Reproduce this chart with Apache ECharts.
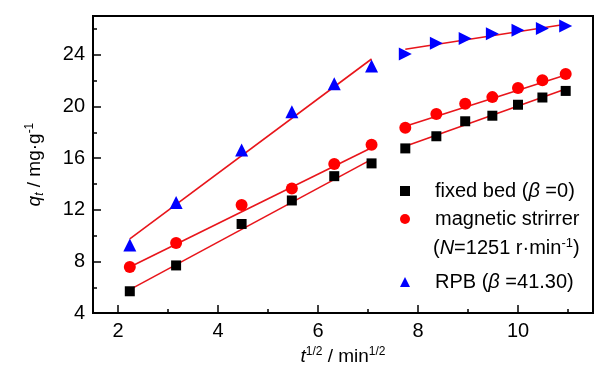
<!DOCTYPE html>
<html><head><meta charset="utf-8">
<script src="https://cdn.jsdelivr.net/npm/echarts@6/dist/echarts.min.js"></script>
<style>html,body{margin:0;padding:0;background:#fff}#c{width:602px;height:373px}</style>
</head><body><div id="c"></div>
<script>
// x positions: t^(1/2), min^(1/2)
const xFirst = [2.236, 3.162, 4.472, 5.477, 6.325, 7.071];
const xSecond = [7.746, 8.367, 8.944, 9.487, 10.0, 10.488, 10.954];
// fixed bed (beta = 0)
const fixedFirst = [5.69, 7.69, 10.9, 12.72, 14.6, 15.59];
const fixedSecond = [16.75, 17.69, 18.85, 19.28, 20.13, 20.69, 21.2];
// magnetic stirrer
const magFirst = [7.57, 9.42, 12.36, 13.65, 15.54, 17.03];
const magSecond = [18.34, 19.42, 20.21, 20.72, 21.42, 22.03, 22.51];
// RPB (beta = 41.30)
const rpbFirst = [9.28, 12.57, 16.62, 19.59, 21.75, 23.13];
const rpbSecond = [24.05, 24.9, 25.26, 25.62, 25.9, 26.03, 26.22];
// fitted line end points [x, y]
const fitFixed1 = [[2.236, 5.82], [7.071, 15.9]];
const fitFixed2 = [[7.746, 16.92], [10.954, 21.34]];
const fitMag1 = [[2.236, 7.57], [7.071, 16.8]];
const fitMag2 = [[7.746, 18.46], [10.954, 22.44]];
const fitRpb1 = [[2.236, 9.75], [7.071, 23.67]];
const fitRpb2 = [[7.746, 24.42], [10.954, 26.36]];
// ticks
const xMajor = [2, 4, 6, 8, 10];
const xMinor = [3, 5, 7, 9, 11];
const yMajor = [4, 8, 12, 16, 20, 24];
const yMinor = [6, 10, 14, 18, 22, 26];

const FONT = 'Liberation Sans, Arial, sans-serif';
const zip = (xs, ys) => xs.map((x, i) => [x, ys[i]]);
const chart = echarts.init(document.getElementById('c'), null, {renderer: 'canvas'});

const lineSeries = (data) => ({
  type: 'line', data: data, symbol: 'none', silent: true,
  lineStyle: {color: '#e8151b', width: 1.6}, z: 1
});

const mkRich = (fs, ss) => ({
  i: {fontStyle: 'italic', fontSize: fs, fontFamily: FONT, color: '#000'},
  n: {fontSize: fs, fontFamily: FONT, color: '#000'},
  sp: {width: 20, fontSize: fs},
  sup: {fontSize: ss, fontFamily: FONT, color: '#000', verticalAlign: 'top', lineHeight: ss},
  sub: {fontSize: ss, fontStyle: 'italic', fontFamily: FONT, color: '#000', verticalAlign: 'bottom', lineHeight: ss}
});
const axisRich = mkRich(19, 12);
const legRich = mkRich(20, 13);

const legendBase = {
  orient: 'vertical', left: 400, padding: 0, itemWidth: 10, itemHeight: 10,
  selectedMode: false,
  textStyle: {fontSize: 20, fontFamily: FONT, color: '#000', lineHeight: 22, rich: legRich}
};

chart.setOption({
  animation: false,
  grid: {left: 93, top: 16, right: 9, bottom: 58, show: true, borderColor: '#000', borderWidth: 2, backgroundColor: 'transparent'},
  xAxis: [{
    type: 'value', min: 1.5, max: 11.5,
    axisLine: {lineStyle: {color: '#000', width: 2}},
    axisTick: {inside: true, length: 8, customValues: xMajor, lineStyle: {color: '#000', width: 1.5}},
    axisLabel: {customValues: xMajor, fontSize: 20, fontFamily: FONT, color: '#000', margin: 8},
    splitLine: {show: false},
    name: '{i|t}{sup|1/2}{n| / min}{sup|1/2}', nameLocation: 'middle', nameGap: 21,
    nameTextStyle: {rich: axisRich, lineHeight: 22}
  }, {
    type: 'value', min: 1.5, max: 11.5, position: 'bottom',
    axisLine: {show: false},
    axisTick: {inside: true, length: 4, customValues: xMinor, lineStyle: {color: '#000', width: 1.5}},
    axisLabel: {show: false}, splitLine: {show: false}
  }],
  yAxis: [{
    type: 'value', min: 4, max: 27,
    axisLine: {show: true, lineStyle: {color: '#000', width: 2}},
    axisTick: {show: true, inside: true, length: 8, customValues: yMajor, lineStyle: {color: '#000', width: 1.5}},
    axisLabel: {customValues: yMajor, fontSize: 20, fontFamily: FONT, color: '#000', margin: 8},
    splitLine: {show: false},
    name: '{i|q}{sub|t}{n| / mg·g}{sup|-1}', nameLocation: 'middle', nameGap: 47, nameRotate: 90,
    nameTextStyle: {rich: axisRich, lineHeight: 22}
  }, {
    type: 'value', min: 4, max: 27, position: 'left',
    axisLine: {show: false},
    axisTick: {show: true, inside: true, length: 4, customValues: yMinor, lineStyle: {color: '#000', width: 1.5}},
    axisLabel: {show: false}, splitLine: {show: false}
  }],
  legend: [
    Object.assign({}, legendBase, {top: 180, data: [{name: 'fixed', icon: 'rect'}],
      formatter: () => '{sp|}{n|fixed bed (}{i|β}{n| =0)}'}),
    Object.assign({}, legendBase, {top: 208, data: [{name: 'magnetic', icon: 'circle'}],
      formatter: () => '{sp|}{n|magnetic strirrer}'}),
    Object.assign({}, legendBase, {top: 271, data: [{name: 'RPB', icon: 'triangle'}],
      formatter: () => '{sp|}{n|RPB (}{i|β}{n| =41.30)}'})
  ],
  graphic: [{
    type: 'text', left: 433, top: 237,
    style: {text: '{n|(}{i|N}{n|=1251 r·min}{sup|-1}{n|)}', rich: legRich, lineHeight: 22}
  }],
  series: [
    lineSeries(fitFixed1), lineSeries(fitFixed2),
    lineSeries(fitMag1), lineSeries(fitMag2),
    lineSeries(fitRpb1), lineSeries(fitRpb2),
    {name: 'fixed', type: 'scatter', symbol: 'rect', symbolSize: 10, itemStyle: {color: '#000', opacity: 1},
      data: zip(xFirst, fixedFirst).concat(zip(xSecond, fixedSecond)), z: 3},
    {name: 'magnetic', type: 'scatter', symbol: 'circle', symbolSize: 12, itemStyle: {color: '#ff0000', opacity: 1},
      data: zip(xFirst, magFirst).concat(zip(xSecond, magSecond)), z: 3},
    {name: 'RPB', type: 'scatter', symbol: 'triangle', symbolSize: 13, itemStyle: {color: '#0000ff', opacity: 1},
      data: zip(xFirst, rpbFirst), z: 3},
    {name: 'RPB-b', type: 'scatter', symbol: 'triangle', symbolSize: 13, symbolRotate: -90, itemStyle: {color: '#0000ff', opacity: 1},
      data: zip(xSecond, rpbSecond), z: 3}
  ]
});
</script></body></html>
